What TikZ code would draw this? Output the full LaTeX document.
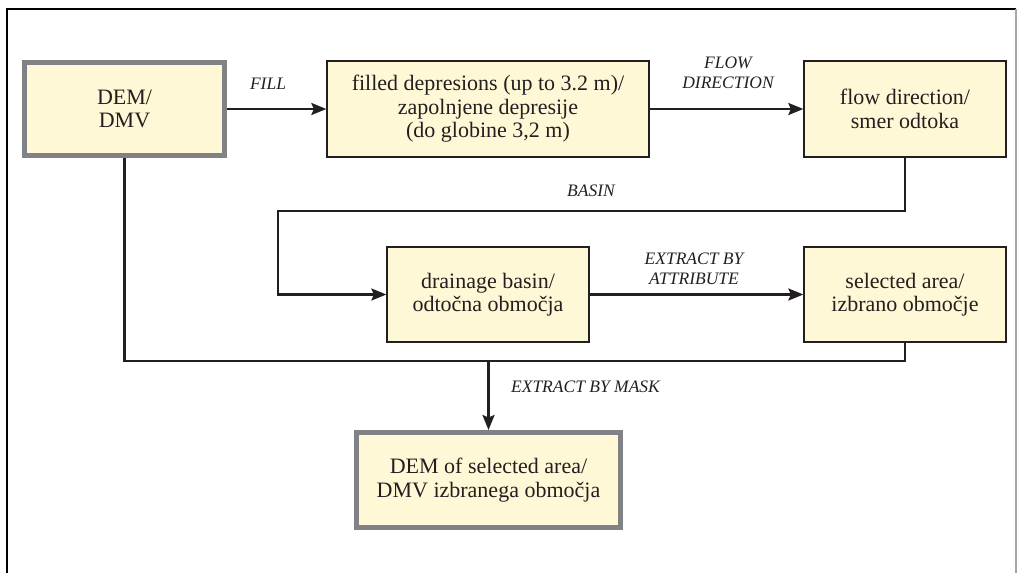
\documentclass[tikz,border=0pt]{standalone}
\usepackage{fontspec}
\setmainfont{Liberation Serif}
\usetikzlibrary{arrows.meta}
\definecolor{boxfill}{HTML}{FFF8D6}
\definecolor{ink}{HTML}{231F20}
\definecolor{thickgrey}{HTML}{808285}
\tikzset{
  stepbox/.style={draw=ink, line width=1.3pt, fill=boxfill, inner sep=0pt,
    align=center, text=ink, font=\fontsize{22}{23.5}\selectfont},
  mainbox/.style={stepbox, draw=thickgrey, line width=5pt},
  conn/.style={draw=ink, line width=2.3pt},
  arr/.style={conn, -{Stealth[length=15pt,width=12pt,inset=2.5pt]}},
  lbl/.style={text=ink, align=center, inner sep=0pt,
    font=\fontsize{17.5}{19.5}\selectfont\itshape}
}
\begin{document}
\begin{tikzpicture}[x=1pt,y=-1pt]
\useasboundingbox (0,0) rectangle (1017,573);
% frame
\draw[black, line width=1.6pt] (7,573) -- (7,9) -- (1016,9);
\draw[gray!70, line width=1.2pt] (1016,9) -- (1016,573);
% nodes
\node[mainbox, minimum width=200pt, minimum height=93pt] (dem) at (124.5,109) {DEM/\\DMV};
\node[stepbox, minimum width=322pt, minimum height=96pt] (fill) at (488,109) {filled depresions (up to 3.2 m)/\\zapolnjene depresije\\(do globine 3,2 m)};
\node[stepbox, minimum width=202pt, minimum height=96pt] (flow) at (905,109) {flow direction/\\smer odtoka};
\node[stepbox, minimum width=202pt, minimum height=95pt] (basin) at (488,294.5) {drainage basin/\\odtočna območja};
\node[stepbox, minimum width=202pt, minimum height=95pt] (sel) at (905,294.5) {selected area/\\izbrano območje};
\node[mainbox, minimum width=264pt, minimum height=95pt] (out) at (488.5,480) {DEM of selected area/\\DMV izbranega območja};
% coordinates
\coordinate (c1) at (905,211);
\coordinate (c2) at (278,211);
\coordinate (c3) at (278,294.5);
\coordinate (d1) at (124.5,361);
\coordinate (d2) at (905,361);
\coordinate (m) at (488.5,361);
% connectors
\draw[arr] (dem.east) -- (fill.west);
\draw[arr] (fill.east) -- (flow.west);
\draw[arr] (flow.south) -- (c1) -- (c2) -- (c3) -- (basin.west);
\draw[arr] (basin.east) -- (sel.west);
\draw[conn] (dem.south) -- (d1) -- (d2) -- (sel.south);
\draw[arr] (m) -- (out.north);
% labels
\node[lbl] (lfill) at (268,84) {FILL};
\node[lbl] (lflow) at (728,73) {FLOW\\DIRECTION};
\node[lbl] (lbasin) at (591,191) {BASIN};
\node[lbl] (lattr) at (694,269) {EXTRACT BY\\ATTRIBUTE};
\node[lbl] (lmask) at (585.5,387) {EXTRACT BY MASK};
\end{tikzpicture}
\end{document}
